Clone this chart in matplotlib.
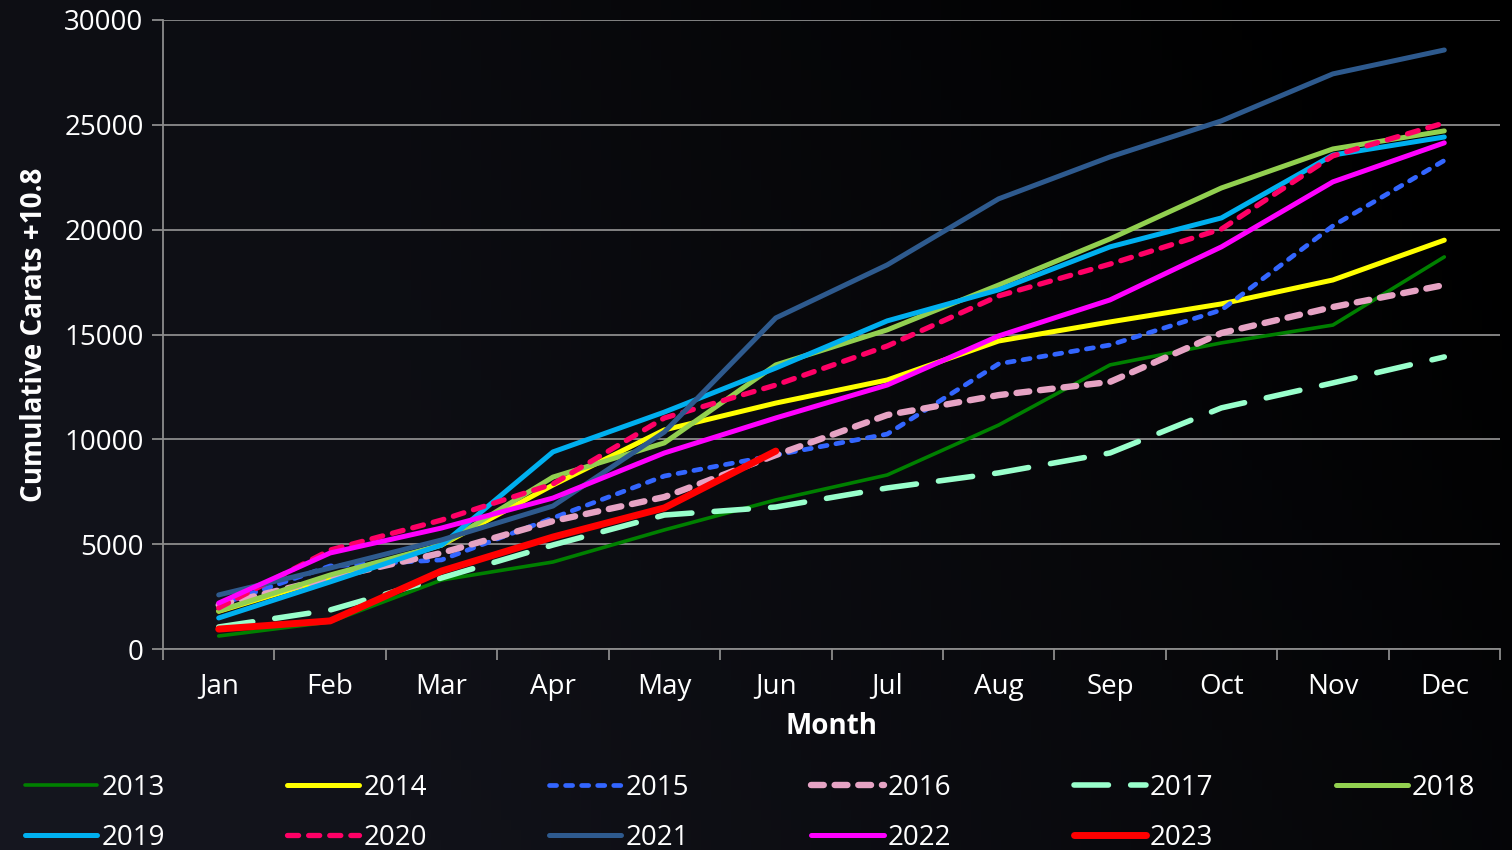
import numpy as np
import matplotlib
matplotlib.use("Agg")
import matplotlib.pyplot as plt
from matplotlib.ticker import FixedLocator, NullFormatter, FixedFormatter

months = ["Jan", "Feb", "Mar", "Apr", "May", "Jun", "Jul", "Aug", "Sep", "Oct", "Nov", "Dec"]

s2013 = [620, 1290, 3290, 4150, 5680, 7110, 8300, 10680, 13550, 14600, 15450, 18700]
s2014 = [1800, 3390, 4960, 7820, 10450, 11730, 12830, 14690, 15600, 16460, 17600, 19500]
s2015 = [2100, 3960, 4250, 6250, 8250, 9250, 10250, 13600, 14500, 16170, 20180, 23300]
s2016 = [2100, 3390, 4580, 6100, 7250, 9250, 11160, 12110, 12740, 15070, 16310, 17360]
s2017 = [1050, 1860, 3390, 4960, 6390, 6770, 7680, 8400, 9350, 11500, 12690, 13930]
s2018 = [1810, 3530, 4960, 8200, 9830, 13550, 15220, 17360, 19560, 21990, 23850, 24710]
s2019 = [1480, 3200, 4960, 9400, 11300, 13400, 15650, 17130, 19180, 20560, 23560, 24420]
s2020 = [1960, 4720, 6150, 7870, 11020, 12590, 14450, 16840, 18360, 20030, 23520, 25090]
s2021 = [2580, 3860, 5200, 6820, 10350, 15790, 18320, 21470, 23470, 25190, 27430, 28570]
s2022 = [2190, 4580, 5770, 7200, 9350, 11020, 12590, 14930, 16650, 19180, 22280, 24140]
s2023 = [950, 1340, 3720, 5340, 6730, 9440]

years = ["2013", "2014", "2015", "2016", "2017", "2018", "2019", "2020", "2021", "2022", "2023"]
series = [s2013, s2014, s2015, s2016, s2017, s2018, s2019, s2020, s2021, s2022, s2023]
colors = ["#008000", "#ffff00", "#3366ff", "#e6a3c4", "#99ffcc", "#92d050",
          "#00b0f0", "#ff0066", "#2e5a8e", "#ff00ff", "#ff0000"]
widths = [2.6, 3.6, 3.4, 4.6, 4.0, 3.6, 3.6, 3.8, 3.6, 3.6, 5.0]
dashes = [None, None, (1.5, 1.9), (2.0, 1.7), (6.2, 4.0), None, None, (2.1, 1.9), None, None, None]

plt.rcParams['font.family'] = ['Open Sans', 'DejaVu Sans']

fig = plt.figure(figsize=(15.12, 8.5), dpi=100)
fig.patch.set_facecolor("black")

# background gradient
bg = fig.add_axes([0, 0, 1, 1], zorder=-10)
h, w = 85, 151
yy, xx = np.mgrid[0:h, 0:w]
xn = xx / (w - 1)
yn = yy / (h - 1)  # 0 at top
t = np.clip(1.0 - 0.75 * xn - 0.35 * (1 - yn), 0, 1)
base = np.array([0.085, 0.09, 0.125])
img = t[..., None] * base[None, None, :]
bg.imshow(img, extent=[0, 1, 0, 1], aspect="auto", origin="upper")
bg.set_axis_off()

ax = fig.add_axes([163 / 1512, 1 - 649 / 850, (1500 - 163) / 1512, (649 - 20) / 850])
ax.set_facecolor("none")

x = np.arange(len(months))
handles = []
for yr, s, c, lw, d in zip(years, series, colors, widths, dashes):
    xs = x[:len(s)]
    if d is None:
        ln, = ax.plot(xs, s, color=c, lw=lw, label=yr, solid_capstyle="round", solid_joinstyle="round")
    else:
        ln, = ax.plot(xs, s, color=c, lw=lw, label=yr, dashes=d, dash_capstyle="round", dash_joinstyle="round")
    handles.append(ln)

ax.set_xlim(-0.5, 11.5)
ax.set_ylim(0, 30000)
ax.set_yticks(np.arange(0, 30001, 5000))
ax.xaxis.set_major_locator(FixedLocator(np.arange(-0.5, 12, 1)))
ax.xaxis.set_major_formatter(NullFormatter())
ax.xaxis.set_minor_locator(FixedLocator(x))
ax.xaxis.set_minor_formatter(FixedFormatter(months))
ax.tick_params(axis="x", which="major", length=8, width=1.3, color="#8c8c8c", direction="out")
ax.tick_params(axis="x", which="minor", length=0, pad=17, labelsize=20, labelcolor="white")
ax.tick_params(axis="y", length=8, width=1.3, color="#8c8c8c", labelsize=20, labelcolor="white", pad=6)

ax.grid(axis="y", color="#8c8c8c", lw=1.3)
ax.set_axisbelow(True)
for side in ["top", "right"]:
    ax.spines[side].set_visible(False)
for side in ["left", "bottom"]:
    ax.spines[side].set_color("#8c8c8c")
    ax.spines[side].set_linewidth(1.3)

ax.set_xlabel("Month", color="white", fontsize=20, fontweight="bold", labelpad=8)
ax.set_ylabel("Cumulative Carats +10.8", color="white", fontsize=20, fontweight="bold", labelpad=11)

order = [0, 6, 1, 7, 2, 8, 3, 9, 4, 10, 5]
leg = fig.legend([handles[i] for i in order], [years[i] for i in order], ncol=6,
                 loc="upper left", bbox_to_anchor=(25 / 1512, 1 - 774 / 850),
                 frameon=False, fontsize=20, handlelength=2.6, handletextpad=0.15,
                 columnspacing=4.4, labelspacing=0.78, borderpad=0, borderaxespad=0)
for t_ in leg.get_texts():
    t_.set_color("white")

fig.savefig("out.png", dpi=100, facecolor=fig.get_facecolor())
